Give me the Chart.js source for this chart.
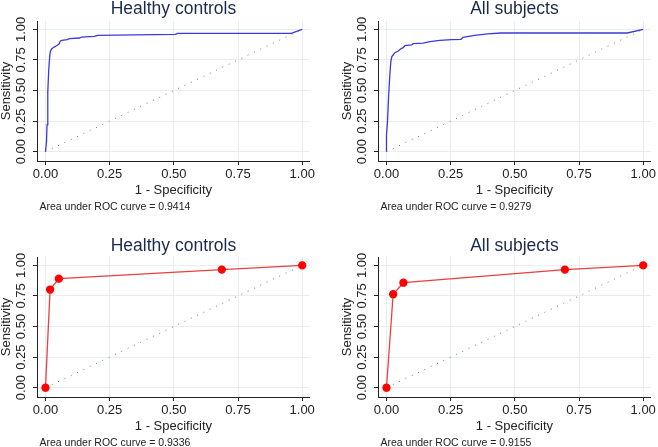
<!DOCTYPE html>
<html>
<head>
<meta charset="utf-8">
<title>ROC curves</title>
<script src="https://cdn.jsdelivr.net/npm/chart.js@4.4.0/dist/chart.umd.min.js"></script>
<style>
    html, body { margin: 0; padding: 0; background: #fff; }
    #wrap { position: relative; width: 658px; height: 447px; overflow: hidden; background: #fff; }
    #wrap canvas { position: absolute; }
</style>
</head>
<body>
<div id="wrap">
    <canvas id="rocHealthy" width="317" height="220" style="left:0;top:0"></canvas>
    <canvas id="rocAll" width="317" height="220" style="left:341px;top:0"></canvas>
    <canvas id="cutHealthy" width="317" height="220" style="left:0;top:236px"></canvas>
    <canvas id="cutAll" width="317" height="220" style="left:341px;top:236px"></canvas>
</div>
<script>
// Tick labels (both axes)
const tickValues = [0, 0.25, 0.5, 0.75, 1];

// Reference line
const diagX = [0, 1];
const diagY = [0, 1];

// Top row: empirical ROC curves
const healthyFpr  = [0, 0.004, 0.006, 0.009, 0.013, 0.017, 0.019, 0.024, 0.032, 0.043, 0.053, 0.058, 0.064, 0.084, 0.094, 0.133, 0.14, 0.19, 0.204, 0.35, 0.506, 0.515, 0.957, 1];
const healthySens = [0, 0.08, 0.22, 0.49, 0.68, 0.79, 0.82, 0.84, 0.853, 0.866, 0.88, 0.905, 0.91, 0.916, 0.924, 0.929, 0.937, 0.943, 0.951, 0.955, 0.958, 0.967, 0.967, 1];

const allFpr  = [0, 0, 0.004, 0.008, 0.013, 0.017, 0.021, 0.026, 0.033, 0.046, 0.055, 0.065, 0.072, 0.098, 0.104, 0.143, 0.169, 0.208, 0.254, 0.29, 0.298, 0.343, 0.395, 0.446, 0.938, 1];
const allSens = [0, 0.136, 0.245, 0.436, 0.627, 0.736, 0.777, 0.79, 0.809, 0.823, 0.839, 0.85, 0.866, 0.872, 0.883, 0.888, 0.9, 0.91, 0.915, 0.917, 0.935, 0.951, 0.962, 0.97, 0.97, 1];

// Bottom row: cut-point ROC curves
const healthyCutFpr  = [0, 0.018, 0.052, 0.687, 1];
const healthyCutSens = [0, 0.802, 0.891, 0.965, 1];

const allCutFpr  = [0, 0.026, 0.066, 0.695, 1];
const allCutSens = [0, 0.764, 0.858, 0.965, 1];

const titles = ['Healthy controls', 'All subjects', 'Healthy controls', 'All subjects'];
const aucValues = ['0.9414', '0.9279', '0.9336', '0.9155'];

const FONT = '"Liberation Sans", Arial, sans-serif';
const axisColor = '#222';
const gridColor = '#e6eef1';

// Title above the plot region and AUC note under the x axis
const panelText = {
    id: 'panelText',
    afterDraw: function(chart, args, opts) {
        const ctx = chart.ctx;
        const area = chart.chartArea;
        ctx.save();
        ctx.fillStyle = '#1b2a4c';
        ctx.font = '17.5px ' + FONT;
        ctx.textAlign = 'center';
        ctx.textBaseline = 'alphabetic';
        ctx.fillText(opts.title, (area.left + area.right) / 2, opts.titleY);
        ctx.fillStyle = '#222';
        ctx.font = '10.5px ' + FONT;
        ctx.textAlign = 'left';
        ctx.fillText(opts.note, area.left + 2.5, opts.noteY);
        ctx.restore();
    }
};

function toPoints(xs, ys) {
    return xs.map((x, i) => ({x: x, y: ys[i]}));
}

function setTicks(scale) {
    scale.ticks = tickValues.map(v => ({value: v}));
}

function buildChart(id, idx, fpr, sens, style) {
    const ctx = document.getElementById(id);
    return new Chart(ctx, {
        type: 'scatter',
        data: {
            datasets: [{
                data: toPoints(fpr, sens),
                showLine: true,
                borderColor: style.line,
                borderWidth: 1.3,
                pointRadius: style.radius,
                pointBackgroundColor: style.marker,
                pointBorderColor: style.marker,
                tension: 0
            }, {
                data: toPoints(diagX, diagY),
                showLine: true,
                borderColor: '#7a7a7a',
                borderWidth: 1,
                borderDash: [1, 6],
                pointRadius: 0
            }]
        },
        options: {
            responsive: false,
            animation: false,
            devicePixelRatio: 1,
            layout: { padding: { top: 21, right: 5, bottom: 19, left: 0 } },
            plugins: {
                legend: { display: false },
                tooltip: { enabled: false },
                panelText: {
                    title: titles[idx],
                    note: 'Area under ROC curve = ' + aucValues[idx],
                    titleY: style.titleY,
                    noteY: 209.5
                }
            },
            scales: {
                x: {
                    type: 'linear',
                    min: -0.033,
                    max: 1.03,
                    afterBuildTicks: setTicks,
                    afterFit: s => { s.height = 40; },
                    grid: { color: gridColor, tickColor: axisColor, tickLength: 4 },
                    border: { color: axisColor, width: 1 },
                    ticks: {
                        autoSkip: false,
                        maxRotation: 0,
                        padding: 2,
                        color: axisColor,
                        font: { family: FONT, size: 13 },
                        callback: v => v.toFixed(2)
                    },
                    title: {
                        display: true,
                        text: '1 - Specificity',
                        color: axisColor,
                        font: { family: FONT, size: 13 },
                        padding: { top: 0, bottom: 3 }
                    }
                },
                y: {
                    type: 'linear',
                    min: -0.076,
                    max: 1.068,
                    afterBuildTicks: setTicks,
                    afterFit: s => { s.width = 37; },
                    grid: { color: gridColor, tickColor: axisColor, tickLength: 4 },
                    border: { color: axisColor, width: 1 },
                    ticks: {
                        autoSkip: false,
                        minRotation: 90,
                        maxRotation: 90,
                        crossAlign: 'center',
                        padding: -1,
                        color: axisColor,
                        font: { family: FONT, size: 13 },
                        callback: v => v.toFixed(2)
                    },
                    title: {
                        display: true,
                        text: 'Sensitivity',
                        color: axisColor,
                        font: { family: FONT, size: 13, lineHeight: 1 },
                        padding: { top: 0, bottom: 0 }
                    }
                }
            }
        },
        plugins: [panelText]
    });
}

const blueStyle = { line: 'rgb(58, 58, 216)', marker: 'rgb(58, 58, 216)', radius: 0, titleY: 13.5 };
const redStyle = { line: 'rgb(232, 64, 64)', marker: 'rgb(255, 0, 0)', radius: 3.5, titleY: 14.5 };

buildChart('rocHealthy', 0, healthyFpr, healthySens, blueStyle);
buildChart('rocAll', 1, allFpr, allSens, blueStyle);
buildChart('cutHealthy', 2, healthyCutFpr, healthyCutSens, redStyle);
buildChart('cutAll', 3, allCutFpr, allCutSens, redStyle);
</script>
</body>
</html>
